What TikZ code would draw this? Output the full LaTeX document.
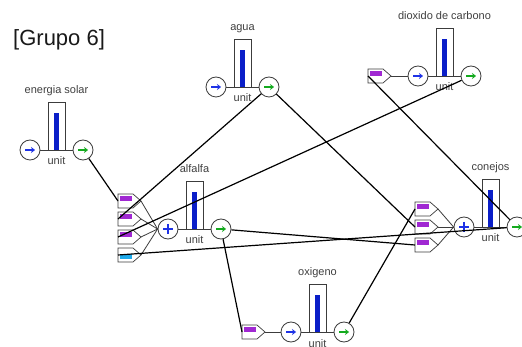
\documentclass[tikz,border=0pt]{standalone}
\usepackage{fontspec}
\setmainfont{Liberation Sans}
\usetikzlibrary{arrows.meta}
\definecolor{barblue}{RGB}{10,30,200}
\definecolor{arrblue}{RGB}{30,50,230}
\definecolor{arrgreen}{RGB}{20,170,30}
\definecolor{purp}{RGB}{160,40,210}
\definecolor{cyanbar}{RGB}{30,170,235}
\definecolor{edge}{RGB}{60,60,60}
\tikzset{
  circ/.style={circle, draw=edge, fill=white, line width=0.8pt, minimum size=20pt, inner sep=0pt},
  modline/.style={draw=edge, line width=0.8pt},
  boxst/.style={draw=edge, line width=0.8pt, fill=white},
  lbl/.style={font=\fontsize{11}{12}\selectfont, text=black!75, inner sep=0pt},
  conn/.style={draw=black, line width=1.2pt},
  inarrow/.style={arrblue, line width=1.4pt, -{Stealth[length=4pt,width=6pt]}},
  outarrow/.style={arrgreen, line width=1.4pt, -{Stealth[length=4pt,width=6pt]}},
  pentst/.style={draw=edge, line width=0.7pt, fill=white},
}
\newcommand{\stockmod}[4]{%
  \draw[modline] (#2,#3) -- ({#2+53},#3);
  \draw[boxst] ({#2+18},#3) rectangle ({#2+35},{#3-48});
  \fill[barblue] ({#2+24},#3) rectangle ({#2+29},{#3-37});
  \node[circ] (#1-out) at ({#2+53},#3) {};
  \draw[outarrow] ({#2+48},#3) -- ({#2+58},#3);
  \node[lbl, anchor=base] (#1-lab) at ({#2+26.5},{#3-56}) {#4};
  \node[lbl, anchor=base] (#1-unit) at ({#2+26.5},{#3+15}) {unit};
}
\newcommand{\arrowin}[3]{%
  \node[circ] (#1-in) at (#2,#3) {};
  \draw[inarrow] ({#2-5},#3) -- ({#2+5},#3);
}
\newcommand{\plusin}[3]{%
  \node[circ] (#1-in) at (#2,#3) {};
  \draw[arrblue, line width=1.5pt] ({#2-5},#3) -- ({#2+5},#3) ({#2},{#3-5}) -- ({#2},{#3+5});
}
\newcommand{\pent}[5]{% name, x, ytop, color, bar offset
  \draw[pentst] (#2,#3) -- ({#2+15},#3) -- ({#2+23},{#3+7}) -- ({#2+15},{#3+14}) -- (#2,{#3+14}) -- cycle;
  \fill[#4] ({#2+1.5},{#3+#5}) rectangle ({#2+14},{#3+#5+5});
  \coordinate (#1) at (#2,{#3+7});
  \coordinate (#1-tip) at ({#2+23},{#3+7});
}
\begin{document}
\begin{tikzpicture}[x=1pt,y=-1pt]
\useasboundingbox (0,0) rectangle (522,347);
\fill[white] (0,0) rectangle (522,347);
\node[font=\fontsize{22}{26}\selectfont, anchor=base west, inner sep=0pt, text=black!90] (title) at (13,46) {[Grupo 6]};
% modules
\stockmod{ene}{30}{150}{energia solar}
\arrowin{ene}{30}{150}
\stockmod{agu}{216}{87}{agua}
\arrowin{agu}{216}{87}
\stockmod{dio}{418}{76}{dioxido de carbono}
\arrowin{dio}{418}{76}
\stockmod{alf}{168}{229}{alfalfa}
\plusin{alf}{168}{229}
\stockmod{con}{464}{227}{conejos}
\plusin{con}{464}{227}
\stockmod{oxi}{291}{332}{oxigeno}
\arrowin{oxi}{291}{332}
% pentagons
\pent{pa1}{118}{194}{purp}{2}
\pent{pa2}{118}{212}{purp}{2}
\pent{pa3}{118}{230}{purp}{2}
\pent{pa4}{118}{248}{cyanbar}{6}
\pent{pc1}{415}{202}{purp}{2}
\pent{pc2}{415}{220}{purp}{2}
\pent{pc3}{415}{238}{purp}{2}
\pent{pd}{368}{69}{purp}{2}
\pent{po}{242}{325}{purp}{2}
% feed lines
\foreach \p in {pa1,pa2,pa3,pa4} \draw[modline] (\p-tip) -- (alf-in.west);
\foreach \p in {pc1,pc2,pc3} \draw[modline] (\p-tip) -- (con-in.west);
\draw[modline] (pd-tip) -- (dio-in);
\draw[modline] (po-tip) -- (oxi-in);
% connectors
\draw[conn] (ene-out) -- (pa1);
\draw[conn] (agu-out) -- (pa2);
\draw[conn] (dio-out) -- (pa3);
\draw[conn] (con-out) -- (pa4);
\draw[conn] (agu-out) -- (pc2);
\draw[conn] (oxi-out) -- (pc1);
\draw[conn] (alf-out) -- (pc3);
\draw[conn] (alf-out) -- (po);
\draw[conn] (con-out) -- (pd);
\end{tikzpicture}
\end{document}
